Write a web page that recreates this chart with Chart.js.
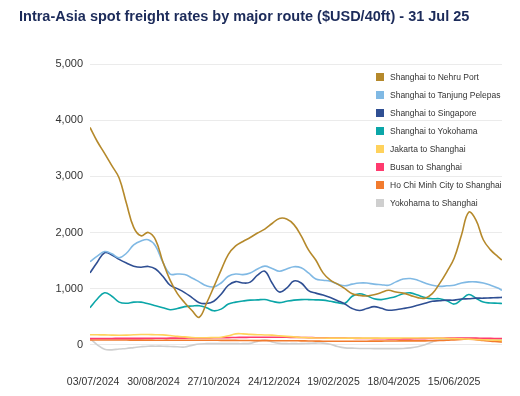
<!DOCTYPE html>
<html lang="en">
<head>
    <meta charset="UTF-8" />
    <title>Intra-Asia spot freight rates</title>
    <script src="https://cdn.jsdelivr.net/npm/chart.js"></script>
    <style>
        body {
            margin: 0;
            background: #fff;
            font-family: "Liberation Sans", Arial, sans-serif;
        }

        .wrap {
            position: relative;
            width: 520px;
            height: 396px;
        }

        canvas {
            position: absolute;
            left: 0;
            top: 0;
        }

        h1 {
            position: absolute;
            left: 19px;
            top: 8px;
            margin: 0;
            font-size: 14.5px;
            line-height: 16px;
            font-weight: bold;
            color: #1c2b5a;
            white-space: nowrap;
            z-index: 2;
        }

        #legend {
            position: absolute;
            left: 376px;
            top: 68px;
            font-size: 8.5px;
            color: #333;
            z-index: 2;
        }

        #legend div {
            height: 18px;
            display: flex;
            align-items: center;
            white-space: nowrap;
        }

        #legend span {
            display: inline-block;
            width: 8px;
            height: 8px;
            margin-right: 6px;
        }
    </style>
</head>
<body>
    <div class="wrap">
        <canvas id="ratesChart"></canvas>
        <h1>Intra-Asia spot freight rates by major route ($USD/40ft) - 31 Jul 25</h1>
        <div id="legend"></div>
    </div>

    <script>
        // weekly observations
        const dates = [
            '30/06/2024', '07/07/2024', '14/07/2024', '21/07/2024', '28/07/2024', '04/08/2024', '11/08/2024', '18/08/2024',
            '25/08/2024', '01/09/2024', '08/09/2024', '15/09/2024', '22/09/2024', '29/09/2024', '06/10/2024', '13/10/2024',
            '20/10/2024', '27/10/2024', '03/11/2024', '10/11/2024', '17/11/2024', '24/11/2024', '01/12/2024', '08/12/2024',
            '15/12/2024', '22/12/2024', '29/12/2024', '05/01/2025', '12/01/2025', '19/01/2025', '26/01/2025', '02/02/2025',
            '09/02/2025', '16/02/2025', '23/02/2025', '02/03/2025', '09/03/2025', '16/03/2025', '23/03/2025', '30/03/2025',
            '06/04/2025', '13/04/2025', '20/04/2025', '27/04/2025', '04/05/2025', '11/05/2025', '18/05/2025', '25/05/2025',
            '01/06/2025', '08/06/2025', '15/06/2025', '22/06/2025', '29/06/2025', '06/07/2025', '13/07/2025', '20/07/2025',
            '27/07/2025', '31/07/2025'
        ];
        const tickLabels = ['03/07/2024', '30/08/2024', '27/10/2024', '24/12/2024', '19/02/2025', '18/04/2025', '15/06/2025'];
        const yTicks = [0, 1000, 2000, 3000, 4000, 5000];

        const routes = [
            'Shanghai to Nehru Port', 'Shanghai to Tanjung Pelepas', 'Shanghai to Singapore', 'Shanghai to Yokohama',
            'Jakarta to Shanghai', 'Busan to Shanghai', 'Ho Chi Minh City to Shanghai', 'Yokohama to Shanghai'
        ];

        const nehruPort = [
            3870, 3620, 3410, 3190, 2970, 2520, 2090, 1940, 2000, 1870,
            1480, 1150, 910, 750, 610, 490, 740, 1030, 1330, 1610,
            1760, 1840, 1910, 1990, 2060, 2160, 2250, 2240, 2140, 1940,
            1690, 1510, 1280, 1150, 1080, 1000, 910, 880, 870, 890,
            930, 970, 940, 920, 880, 840, 830, 910, 1090, 1300,
            1540, 1950, 2360, 2220, 1870, 1690, 1570, 1510
        ];
        const tanjungPelepas = [
            1480, 1580, 1660, 1620, 1550, 1630, 1780, 1850, 1870, 1760,
            1470, 1260, 1260, 1250, 1190, 1120, 1050, 1030, 1100, 1220,
            1260, 1250, 1280, 1350, 1400, 1360, 1310, 1350, 1390, 1370,
            1280, 1170, 1150, 1130, 1080, 1050, 1080, 1100, 1100, 1080,
            1070, 1060, 1120, 1170, 1180, 1150, 1100, 1060, 1040, 1050,
            1060, 1100, 1120, 1120, 1100, 1060, 1010, 970
        ];
        const singapore = [
            1280, 1470, 1640, 1600, 1520, 1455, 1400, 1380, 1395, 1350,
            1220, 1060, 1000, 930, 840, 750, 735, 775, 900, 1060,
            1125, 1100, 1115, 1240, 1310, 1100, 940, 1010, 1135, 1100,
            965, 920, 885, 840, 785, 725, 645, 610, 645, 680,
            650, 615, 625, 645, 670, 705, 740, 775, 785, 795,
            795, 815, 820, 830, 830, 835, 840, 845
        ];
        const yokohama = [
            660, 815, 925, 865, 760, 740, 760, 760, 730, 695,
            660, 625, 645, 680, 690, 695, 660, 605, 635, 725,
            760, 780, 795, 800, 805, 775, 750, 775, 795, 805,
            805, 800, 795, 775, 750, 740, 865, 910, 875, 820,
            805, 830, 860, 910, 925, 885, 840, 820, 820, 785,
            725, 805, 895, 830, 760, 745, 740, 735
        ];
        const jakartaShanghai = [
            180, 178, 176, 172, 170, 172, 178, 182, 182, 180,
            176, 165, 150, 140, 130, 125, 125, 130, 135, 160,
            195, 195, 185, 180, 175, 172, 160, 150, 140, 130,
            125, 120, 120, 118, 118, 118, 118, 118, 118, 118,
            118, 118, 118, 120, 120, 120, 120, 120, 118, 115,
            110, 105, 100, 95, 90, 85, 80, 78
        ];
        const busanShanghai = [
            112, 112, 113, 113, 114, 114, 115, 115, 116, 116,
            117, 118, 118, 119, 120, 121, 122, 124, 126, 128,
            130, 132, 133, 134, 134, 134, 134, 133, 132, 130,
            128, 126, 124, 122, 120, 118, 116, 114, 112, 110,
            108, 106, 105, 105, 106, 108, 110, 113, 116, 118,
            120, 121, 120, 118, 116, 114, 112, 111
        ];
        const hcmcShanghai = [
            85, 85, 85, 84, 84, 84, 83, 83, 83, 82,
            82, 82, 81, 81, 80, 80, 80, 80, 79, 79,
            78, 76, 75, 74, 74, 73, 72, 72, 71, 70,
            68, 66, 64, 63, 62, 62, 62, 63, 64, 65,
            66, 67, 68, 70, 70, 70, 70, 72, 75, 80,
            88, 95, 100, 90, 75, 62, 55, 50
        ];
        const yokohamaShanghai = [
            110, 0, -80, -90, -75, -65, -50, -35, -25, -25,
            -25, -30, -35, -40, -10, 15, 20, 20, 20, 20,
            20, 20, 25, 60, 85, 50, 25, 20, 20, 20,
            25, 30, 30, 10, -30, -55, -60, -65, -65, -68,
            -68, -68, -68, -65, -55, -35, 0, 50, 90, 100,
            105, 110, 110, 110, 105, 100, 100, 100
        ];

        const series = [nehruPort, tanjungPelepas, singapore, yokohama, jakartaShanghai, busanShanghai, hcmcShanghai, yokohamaShanghai];
        const colors = ['#b5892b', '#80b9e4', '#2f4f93', '#0ba6a8', '#ffd25c', '#ff3a6e', '#f27b2e', '#cfcfcf'];

        function toDay(s) {
            const p = s.split('/');
            return Date.UTC(+p[2], +p[1] - 1, +p[0]) / 86400000;
        }

        const days = dates.map(toDay);

        const datasets = series.map((values, i) => ({
            label: routes[i],
            data: values.map((v, j) => ({ x: days[j], y: v })),
            borderColor: colors[i],
            backgroundColor: colors[i],
            borderWidth: 1.6,
            pointRadius: 0,
            tension: 0.4,
            fill: false
        }));

        // legend sits inside the plot, top right
        document.getElementById('legend').innerHTML = routes
            .map((r, i) => `<div><span style="background:${colors[i]}"></span>${r}</div>`)
            .join('');

        new Chart(document.getElementById('ratesChart'), {
            type: 'line',
            data: { datasets },
            options: {
                responsive: true,
                maintainAspectRatio: false,
                animation: false,
                layout: { padding: { top: 64, right: 18, left: 0, bottom: 0 } },
                plugins: {
                    legend: { display: false },
                    tooltip: { enabled: false }
                },
                scales: {
                    x: {
                        type: 'linear',
                        min: days[0],
                        max: days[days.length - 1],
                        grid: { display: false },
                        border: { display: false },
                        afterBuildTicks: axis => { axis.ticks = tickLabels.map(t => ({ value: toDay(t) })); },
                        afterFit: axis => { axis.height = 31; },
                        ticks: {
                            autoSkip: false,
                            maxRotation: 0,
                            padding: 3,
                            color: '#333',
                            font: { family: '"Liberation Sans", Arial, sans-serif', size: 10.5 },
                            callback: (value, index) => tickLabels[index]
                        }
                    },
                    y: {
                        min: -360,
                        max: 5000,
                        grid: { color: '#ebebeb', drawTicks: false, lineWidth: 1 },
                        border: { display: false },
                        afterBuildTicks: axis => { axis.ticks = yTicks.map(v => ({ value: v })); },
                        afterFit: axis => { axis.width = 90; },
                        ticks: {
                            padding: 7,
                            color: '#333',
                            font: { family: '"Liberation Sans", Arial, sans-serif', size: 11 },
                            callback: value => value.toLocaleString('en-US')
                        }
                    }
                }
            }
        });
    </script>
</body>
</html>
